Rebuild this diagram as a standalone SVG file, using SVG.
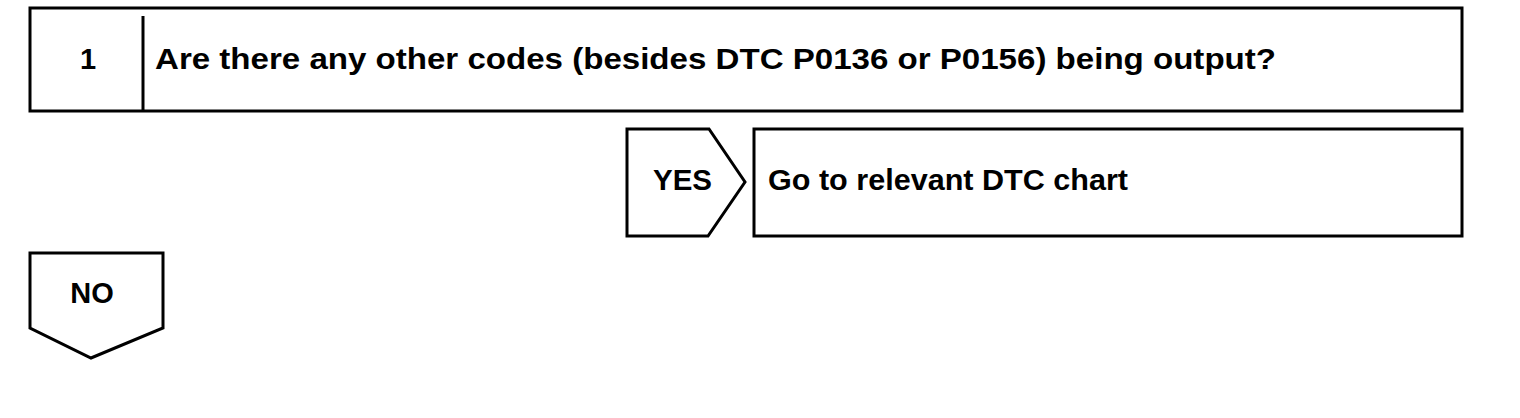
<svg xmlns="http://www.w3.org/2000/svg" width="1520" height="418" viewBox="0 0 1520 418">
<style>
.s{fill:#fff;stroke:#000;stroke-width:3}
.t{font-family:"Liberation Sans",Arial,sans-serif;font-weight:bold;font-size:29px;fill:#000}
</style>
<rect width="1520" height="418" fill="#fff"/>
<g id="step1">
<rect class="s" x="30" y="8" width="1432" height="103"/>
<line class="s" x1="143" y1="16" x2="143" y2="111"/>
<text class="t" x="88" y="69" text-anchor="middle">1</text>
<text class="t" x="155" y="69" textLength="1121" lengthAdjust="spacingAndGlyphs">Are there any other codes (besides DTC P0136 or P0156) being output?</text>
</g>
<g id="connectors">
<g id="yes">
<polygon class="s" points="627,129 709,129 745,182 708,236 627,236"/>
<text class="t" x="653" y="190" textLength="59" lengthAdjust="spacingAndGlyphs">YES</text>
</g>
<g id="no">
<polygon class="s" points="30,253 163,253 163,328 91,358 30,328"/>
<text class="t" x="92" y="303" text-anchor="middle">NO</text>
</g>
</g>
<g id="result">
<rect class="s" x="754" y="129" width="708" height="107"/>
<text class="t" x="768" y="190" textLength="360" lengthAdjust="spacingAndGlyphs">Go to relevant DTC chart</text>
</g>
</svg>
